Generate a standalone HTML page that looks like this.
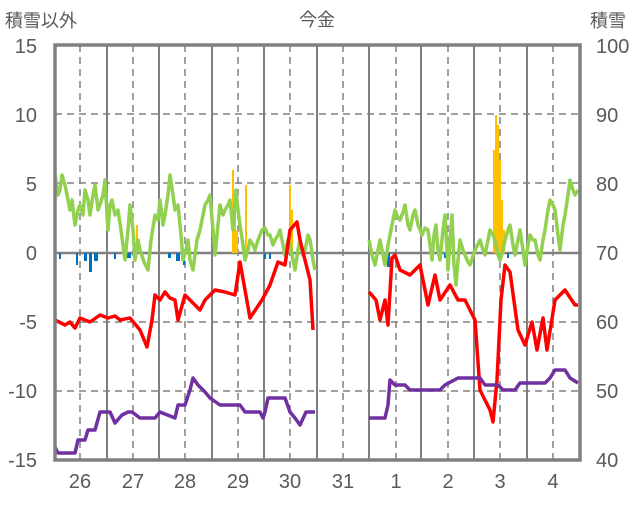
<!DOCTYPE html><html><head><meta charset="utf-8"><style>
body{margin:0;background:#fff;width:636px;height:501px;overflow:hidden}
svg text{font-family:"Liberation Sans","Noto Sans CJK JP",sans-serif;fill:#595959}
</style></head><body>
<svg width="636" height="501" viewBox="0 0 636 501">
<g stroke="#808080" stroke-width="1.5" stroke-dasharray="7,5">
<line x1="55" x2="580" y1="114" y2="114"/><line x1="55" x2="580" y1="183" y2="183"/>
<line x1="55" x2="580" y1="322" y2="322"/><line x1="55" x2="580" y1="391" y2="391"/>
<line x1="80" x2="80" y1="45" y2="460"/><line x1="133" x2="133" y1="45" y2="460"/>
<line x1="185" x2="185" y1="45" y2="460"/><line x1="238" x2="238" y1="45" y2="460"/>
<line x1="290" x2="290" y1="45" y2="460"/><line x1="343" x2="343" y1="45" y2="460"/>
<line x1="396" x2="396" y1="45" y2="460"/><line x1="448" x2="448" y1="45" y2="460"/>
<line x1="500" x2="500" y1="45" y2="460"/><line x1="553" x2="553" y1="45" y2="460"/>
</g>
<g stroke="#808080" stroke-width="2">
<line x1="107" x2="107" y1="45" y2="460"/><line x1="159" x2="159" y1="45" y2="460"/>
<line x1="212" x2="212" y1="45" y2="460"/><line x1="264" x2="264" y1="45" y2="460"/>
<line x1="317" x2="317" y1="45" y2="460"/><line x1="369" x2="369" y1="45" y2="460"/>
<line x1="421" x2="421" y1="45" y2="460"/><line x1="474" x2="474" y1="45" y2="460"/>
<line x1="527" x2="527" y1="45" y2="460"/>
<line x1="55" x2="580" y1="253" y2="253" stroke-width="2.5"/>
</g>
<g fill="#ffc000">
<rect x="232" y="170" width="2" height="83"/><rect x="234" y="195" width="2" height="58"/><rect x="236" y="230" width="2" height="23"/>
<rect x="245" y="185" width="2" height="68"/><rect x="289" y="185" width="2" height="68"/><rect x="291" y="210" width="2" height="43"/>
<rect x="136" y="225" width="2" height="28"/>
<rect x="493" y="150" width="2" height="103"/><rect x="495" y="115" width="2" height="138"/><rect x="497" y="125" width="2" height="128"/>
<rect x="499" y="160" width="2" height="93"/><rect x="501" y="200" width="2" height="53"/><rect x="503" y="230" width="2" height="23"/>
</g>
<g fill="#0070c0">
<rect x="59" y="253" width="2" height="6"/><rect x="76" y="253" width="2" height="12"/><rect x="84" y="253" width="3" height="8"/>
<rect x="89" y="253" width="3" height="19"/><rect x="94" y="253" width="4" height="8"/><rect x="114" y="253" width="2" height="6"/>
<rect x="127" y="253" width="4" height="5"/><rect x="149" y="253" width="2" height="6"/><rect x="168" y="253" width="3" height="5"/>
<rect x="176" y="253" width="4" height="8"/><rect x="183" y="253" width="2" height="12"/><rect x="194" y="253" width="2" height="6"/>
<rect x="264" y="253" width="2" height="6"/><rect x="269" y="253" width="2" height="6"/><rect x="387" y="253" width="3" height="14"/>
<rect x="444" y="253" width="2" height="5"/><rect x="452" y="253" width="2" height="5"/><rect x="507" y="253" width="2" height="5"/><rect x="540" y="253" width="2" height="5"/>
</g>
<g fill="none" stroke-linejoin="round" stroke-width="3.5">
<polyline stroke="#92d050" points="55,175 58,195 60,190 62,175 65,185 67,195 70,210 72,200 75,225 78,210 80,205 83,215 85,190 88,200 90,215 93,195 95,185 98,210 100,205 103,195 105,180 108,230 110,205 112,200 115,215 118,210 121,230 125,260 128,230 130,205 133,230 135,260 138,240 140,250 144,262 148,270 151,240 155,215 158,220 160,200 163,225 165,215 168,195 170,175 173,195 175,210 178,205 181,235 183,260 186,250 188,240 190,260 193,270 195,255 197,240 200,230 203,215 205,205 208,200 210,195 213,230 215,255 218,225 220,205 223,215 225,210 228,205 230,200 233,230 236,190 238,210 240,225 243,245 245,260 248,250 250,240 253,245 255,250 258,240 262,230 265,228 268,235 270,235 273,245 275,240 278,235 280,230 283,245 285,255 288,240 290,245 293,260 295,270 298,250 300,240 303,255 305,250 308,235 310,240 313,260 315,270"/>
<polyline stroke="#92d050" points="369,240 372,255 375,265 378,250 380,240 383,255 385,265 388,245 390,235 393,220 395,210 398,218 400,220 403,212 405,205 408,225 410,230 413,215 415,210 418,225 422,235 425,228 428,230 430,245 432,260 434,235 436,225 438,250 440,260 443,230 445,215 447,250 448,270 450,240 452,215 454,265 456,285 458,260 460,240 463,250 465,255 468,262 470,265 475,250 480,240 483,250 485,255 488,240 490,230 493,235 495,240 498,255 500,260 503,250 505,240 508,230 510,225 513,245 515,255 518,240 520,230 523,250 525,265 528,245 530,235 533,240 535,240 538,255 540,260 543,240 545,230 548,210 550,200 553,205 555,210 558,235 560,250 563,225 565,215 568,195 570,180 573,190 575,195 578,190"/>
<polyline stroke="#ff0000" points="55,320 65,325 70,322 75,328 80,318 90,322 100,315 108,318 115,316 120,320 130,318 140,330 147,347 152,320 155,295 160,300 165,292 170,298 175,300 178,320 185,295 195,305 200,310 205,300 215,290 225,292 235,295 240,262 245,290 250,318 262,300 270,285 278,262 285,265 290,230 297,222 300,240 305,260 310,280 313,330"/>
<polyline stroke="#ff0000" points="369,292 376,300 380,320 385,300 388,325 392,258 395,255 400,270 410,275 415,270 420,265 428,305 435,275 440,300 450,285 458,300 465,300 475,320 480,390 490,410 493,422 497,380 501,300 505,265 510,272 518,330 525,345 532,322 537,350 543,318 547,350 555,300 565,290 575,305 578,305"/>
<polyline stroke="#7030a0" points="55,447 58,453 75,453 78,440 85,440 88,430 95,430 100,412 110,412 115,423 122,415 128,412 132,412 140,418 155,418 160,412 175,418 178,405 185,405 190,390 193,378 198,385 205,392 210,398 220,405 240,405 245,412 260,412 263,418 265,412 268,398 285,398 290,412 295,418 300,425 306,412 315,412"/>
<polyline stroke="#7030a0" points="369,418 385,418 388,405 390,380 395,385 405,385 410,390 440,390 445,385 458,378 480,378 485,385 498,385 503,390 515,390 520,383 545,383 550,378 555,370 565,370 570,378 578,383"/>
</g>
<rect x="55" y="45" width="525" height="415" fill="none" stroke="#808080" stroke-width="3.5"/>
<g font-size="20" text-anchor="end">
<text x="37" y="53">15</text><text x="37" y="122">10</text><text x="37" y="191">5</text><text x="37" y="260">0</text>
<text x="37" y="329">-5</text><text x="37" y="398">-10</text><text x="37" y="467">-15</text>
</g>
<g font-size="20" text-anchor="start">
<text x="596" y="53">100</text><text x="596" y="122">90</text><text x="596" y="191">80</text><text x="596" y="260">70</text>
<text x="596" y="329">60</text><text x="596" y="398">50</text><text x="596" y="467">40</text>
</g>
<g font-size="20" text-anchor="middle">
<text x="80" y="488">26</text><text x="133" y="488">27</text><text x="185" y="488">28</text><text x="238" y="488">29</text>
<text x="290" y="488">30</text><text x="343" y="488">31</text><text x="396" y="488">1</text><text x="448" y="488">2</text>
<text x="500" y="488">3</text><text x="553" y="488">4</text>
<text x="317" y="26" font-size="18">今金</text>
</g>
<text x="5" y="27" font-size="18">積雪以外</text>
<text x="590" y="27" font-size="18">積雪</text>
</svg></body></html>
